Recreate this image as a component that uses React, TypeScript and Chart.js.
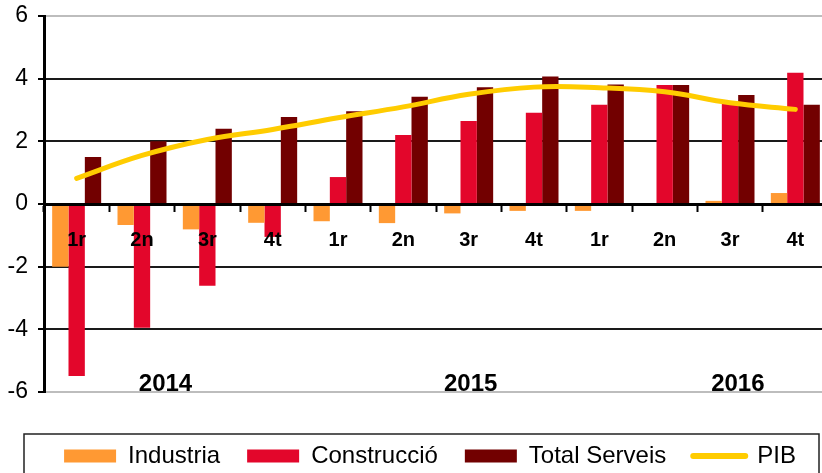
import React, { useEffect, useRef } from 'react';
import { Chart, registerables } from 'chart.js';

Chart.register(...registerables);

// ---- data ----
const QUARTERS = ['1r', '2n', '3r', '4t', '1r', '2n', '3r', '4t', '1r', '2n', '3r', '4t'];
const YEARS = ['2014', '2015', '2016'];
const SERIES_NAMES = ['Industria', 'Construcció', 'Total Serveis', 'PIB'];
const INDUSTRIA = [-2.0, -0.67, -0.81, -0.6, -0.55, -0.61, -0.3, -0.22, -0.22, 0, 0.1, 0.35];
const CONSTRUCCIO = [-5.49, -3.95, -2.61, -1.05, 0.86, 2.2, 2.65, 2.91, 3.17, 3.8, 3.25, 4.19];
const TOTAL_SERVEIS = [1.5, 2.0, 2.4, 2.78, 2.96, 3.42, 3.73, 4.07, 3.81, 3.8, 3.48, 3.17];
const PIB = [0.82, 1.55, 2.06, 2.38, 2.75, 3.1, 3.5, 3.73, 3.71, 3.58, 3.23, 3.02];
const Y_TICKS = [-6, -4, -2, 0, 2, 4, 6];

// ---- styles ----
const COLORS = ['#FF9933', '#E3062B', '#720000', '#FFCC00'];
const FONT = 'Liberation Sans, Arial, sans-serif';
// year label placement (category-index position, y value)
const YEAR_POS = [1.36, 6.03, 10.12];
const YEAR_Y = -5.76;

const yearLabelsPlugin = {
  id: 'yearLabels',
  afterDatasetsDraw(chart: any) {
    const { ctx, scales } = chart;
    const xs = scales.x;
    const ys = scales.y;
    ctx.save();
    ctx.font = `bold 24px ${FONT}`;
    ctx.fillStyle = '#000';
    ctx.textAlign = 'center';
    ctx.textBaseline = 'middle';
    YEARS.forEach((t, i) => {
      ctx.fillText(t, xs.getPixelForValue(YEAR_POS[i]), ys.getPixelForValue(YEAR_Y));
    });
    ctx.restore();
  },
};

const legendBorderPlugin = {
  id: 'legendBorder',
  afterDraw(chart: any) {
    const lg = chart.legend;
    if (!lg) return;
    const { ctx } = chart;
    ctx.save();
    ctx.strokeStyle = '#222';
    ctx.lineWidth = 1.5;
    const l = lg.left - 8;
    const r = lg.right - 9;
    const t = lg.top + 17;
    ctx.strokeRect(l, t, r - l, 100);
    ctx.restore();
  },
};

export default function App() {
  const ref = useRef<HTMLCanvasElement | null>(null);

  useEffect(() => {
    if (!ref.current) return;
    const chart = new Chart(ref.current, {
      type: 'bar',
      data: {
        labels: QUARTERS,
        datasets: [
          { label: SERIES_NAMES[0], data: INDUSTRIA, backgroundColor: COLORS[0], order: 1 },
          { label: SERIES_NAMES[1], data: CONSTRUCCIO, backgroundColor: COLORS[1], order: 1 },
          { label: SERIES_NAMES[2], data: TOTAL_SERVEIS, backgroundColor: COLORS[2], order: 1 },
          {
            type: 'line',
            label: SERIES_NAMES[3],
            data: PIB,
            borderColor: COLORS[3],
            backgroundColor: COLORS[3],
            borderWidth: 5,
            tension: 0.4,
            pointRadius: 0,
            borderCapStyle: 'round',
            borderJoinStyle: 'round',
            order: 0,
          } as any,
        ],
      },
      options: {
        responsive: false,
        animation: false,
        events: [],
        layout: { padding: { top: 16, left: 32, right: 12, bottom: 2 } },
        datasets: {
          bar: { categoryPercentage: 0.75, barPercentage: 1.0 },
        },
        scales: {
          x: {
            type: 'category',
            position: { y: 0 } as any,
            offset: true,
            grid: {
              display: true,
              drawOnChartArea: false,
              drawTicks: true,
              tickLength: 6,
              offset: true,
              tickColor: '#000',
              tickWidth: 2,
              z: 1,
            },
            border: { display: true, color: '#000', width: 3, z: 1 },
            ticks: {
              autoSkip: false,
              maxRotation: 0,
              padding: 18,
              color: '#000',
              z: 1,
              font: { family: FONT, size: 20, weight: 'bold' },
            },
          },
          y: {
            min: -6,
            max: 6,
            afterFit: (s: any) => {
              s.width = 12;
              s.paddingTop = 0;
              s.paddingBottom = 0;
              // let the tick labels extend left of the narrow axis box
              s._computeLabelArea = () => undefined;
            },
            afterBuildTicks: (s: any) => {
              s.ticks = Y_TICKS.map((v) => ({ value: v }));
            },
            grid: {
              color: (c: any) =>
                c.tick && (c.tick.value === 6 || c.tick.value === -6) ? '#bdbdbd' : '#1a1a1a',
              lineWidth: 2,
              drawTicks: true,
              tickLength: 6,
              tickColor: '#000',
              tickWidth: 2,
            },
            border: { display: true, color: '#000', width: 3 },
            ticks: {
              padding: 10,
              color: '#000',
              font: { family: FONT, size: 23 },
            },
          },
        },
        plugins: {
          tooltip: { enabled: false },
          title: {
            display: true,
            text: ' ',
            position: 'bottom',
            weight: 500,
            font: { size: 10, lineHeight: 1 },
            padding: { top: 0, bottom: 15 },
          } as any,
          legend: {
            display: true,
            position: 'bottom',
            labels: {
              usePointStyle: true,
              pointStyleWidth: 52,
              boxHeight: 13,
              padding: 27,
              color: '#000',
              font: { family: FONT, size: 24 },
              generateLabels: () =>
                SERIES_NAMES.map((name, i) => ({
                  text: name,
                  fillStyle: COLORS[i],
                  strokeStyle: COLORS[i],
                  lineWidth: i === 3 ? 6 : 0,
                  lineCap: 'round',
                  pointStyle: i === 3 ? 'line' : 'rect',
                  hidden: false,
                  datasetIndex: i,
                  fontColor: '#000',
                })) as any,
            },
          },
        },
      } as any,
      plugins: [yearLabelsPlugin, legendBorderPlugin],
    });
    return () => chart.destroy();
  }, []);

  return (
    <div
      style={{
        position: 'absolute',
        left: 0,
        top: 0,
        width: 822,
        height: 473,
        overflow: 'hidden',
        background: '#fff',
      }}
    >
      <canvas ref={ref} width={840} height={480} style={{ width: 840, height: 480 }} />
    </div>
  );
}
